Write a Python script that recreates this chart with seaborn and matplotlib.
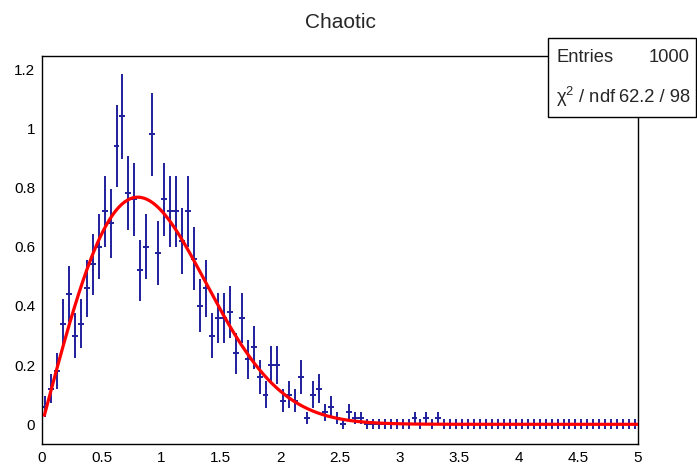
import numpy as np
import matplotlib
matplotlib.use("Agg")
import matplotlib.pyplot as plt
from matplotlib.patches import Rectangle
from matplotlib.ticker import MultipleLocator
import seaborn as sns

# ---------------- data ----------------
title = "Chaotic"
bin_low = 0.0
bin_high = 5.0
bin_width = 0.05
entries = 1000
chi2_ndf = "62.2 / 98"

# normalised bin contents (100 bins, 0..5)
density = [
    0.06, 0.12, 0.18, 0.34, 0.44, 0.30, 0.34, 0.46, 0.54, 0.60,
    0.72, 0.68, 0.94, 1.04, 0.78, 0.76, 0.52, 0.60, 0.98, 0.58,
    0.76, 0.72, 0.72, 0.62, 0.72, 0.56, 0.40, 0.46, 0.30, 0.36,
    0.36, 0.38, 0.24, 0.36, 0.22, 0.26, 0.16, 0.10, 0.20, 0.20,
    0.08, 0.10, 0.08, 0.16, 0.02, 0.10, 0.12, 0.04, 0.06, 0.02,
    0.00, 0.04, 0.02, 0.02, 0.00, 0.00, 0.00, 0.00, 0.00, 0.00,
    0.00, 0.00, 0.02, 0.00, 0.02, 0.00, 0.02, 0.00, 0.00, 0.00,
    0.00, 0.00, 0.00, 0.00, 0.00, 0.00, 0.00, 0.00, 0.00, 0.00,
    0.00, 0.00, 0.00, 0.00, 0.00, 0.00, 0.00, 0.00, 0.00, 0.00,
    0.00, 0.00, 0.00, 0.00, 0.00, 0.00, 0.00, 0.00, 0.00, 0.00,
]

# fitted function parameters: f(x) = amp * x * exp(-rate * x**power)
fit_amp = 1.52
fit_rate = 0.744
fit_power = 2.15
fit_start = 0.02

x_ticks = [0, 0.5, 1, 1.5, 2, 2.5, 3, 3.5, 4, 4.5, 5]
x_tick_labels = ["0", "0.5", "1", "1.5", "2", "2.5", "3", "3.5", "4", "4.5", "5"]
y_ticks = [0, 0.2, 0.4, 0.6, 0.8, 1.0, 1.2]
y_tick_labels = ["0", "0.2", "0.4", "0.6", "0.8", "1", "1.2"]

# ---------------- style ----------------
sns.set_theme(style="white")
plt.rcParams['font.family'] = ['Liberation Sans', 'DejaVu Sans']
plt.rcParams['mathtext.fontset'] = 'custom'
plt.rcParams['mathtext.rm'] = 'Liberation Sans'
plt.rcParams['mathtext.it'] = 'Liberation Sans:italic'

W, H = 697, 468
fig = plt.figure(figsize=(W / 100, H / 100), dpi=100)
fig.patch.set_facecolor("white")

ax_left, ax_right, ax_top, ax_bottom = 42, 638, 56, 444
ax = fig.add_axes([ax_left / W, 1 - ax_bottom / H,
                   (ax_right - ax_left) / W, (ax_bottom - ax_top) / H])
ax.set_facecolor("white")

vals = np.array(density)
centers = bin_low + bin_width * (np.arange(len(vals)) + 0.5)
counts = vals * entries * bin_width
err = np.sqrt(counts) / (entries * bin_width)
empty_err = 0.017
err = np.where(counts > 0, err, empty_err)

point_color = "#1f1f9e"
ax.errorbar(centers, vals, xerr=bin_width / 2, yerr=err, fmt="none",
            ecolor=point_color, elinewidth=1.4, capsize=0, zorder=2)

xs = np.linspace(fit_start, bin_high, 400)
fit = fit_amp * xs * np.exp(-fit_rate * xs ** fit_power)
sns.lineplot(x=xs, y=fit, ax=ax, color="#ff0000", linewidth=2.3, zorder=3,
             sort=False, estimator=None)

ax.set_xlim(bin_low, bin_high)
y0_px, y_scale = 424.3, 296.0
ax.set_ylim((y0_px - ax_bottom) / y_scale, (y0_px - ax_top) / y_scale)

ax.set_xticks(x_ticks)
ax.set_xticklabels(x_tick_labels)
ax.set_yticks(y_ticks)
ax.set_yticklabels(y_tick_labels)
ax.xaxis.set_minor_locator(MultipleLocator(0.1))
ax.yaxis.set_minor_locator(MultipleLocator(0.05))
ax.tick_params(axis="both", which="both", direction="in", top=False, right=False,
               colors="black", labelsize=11)
ax.tick_params(axis="both", which="major", length=9.5, width=1.0)
ax.tick_params(axis="both", which="minor", length=5, width=1.0)
ax.tick_params(axis="x", which="major", pad=5)
ax.tick_params(axis="y", which="major", pad=5)
for s in ax.spines.values():
    s.set_color("black")
    s.set_linewidth(1.0)
ax.grid(False)
ax.set_xlabel("")
ax.set_ylabel("")

fig.text(340 / W, 1 - 22 / H, title, ha="center", va="center", fontsize=15)

# stats box
bx0, bx1, by0, by1 = 548, 696, 38, 117
fig.patches.append(Rectangle((bx0 / W, 1 - by1 / H), (bx1 - bx0) / W, (by1 - by0) / H,
                             transform=fig.transFigure, facecolor="white",
                             edgecolor="black", linewidth=1.0, zorder=5))
fig.text(556 / W, 1 - 58 / H, "Entries", ha="left", va="center", fontsize=13.2, zorder=6)
fig.text(690 / W, 1 - 58 / H, f"{entries}", ha="right", va="center", fontsize=13.2, zorder=6)
fig.text(556 / W, 1 - 97 / H, r"χ$^{2}$ / ndf", ha="left", va="center", fontsize=13.2, zorder=6)
fig.text(690 / W, 1 - 98 / H, chi2_ndf, ha="right", va="center", fontsize=13.2, zorder=6)

fig.savefig("out.png", dpi=100, facecolor="white")
